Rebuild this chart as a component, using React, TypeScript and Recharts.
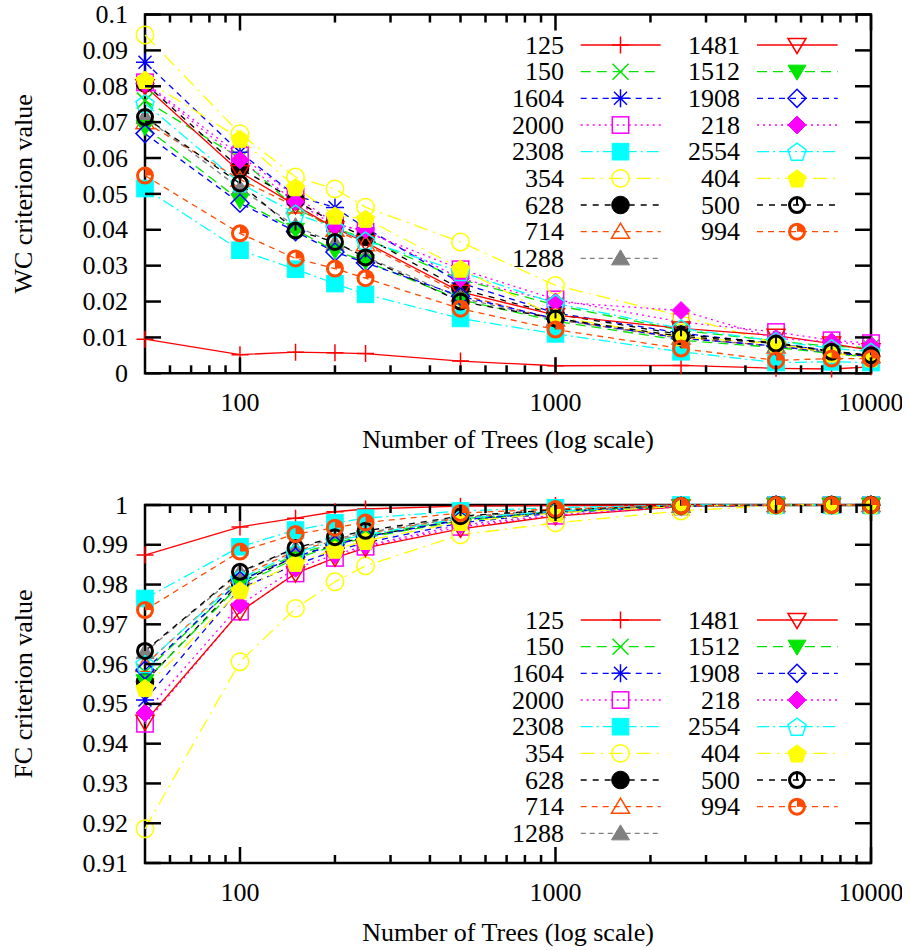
import React from 'react';
import { LineChart, Line, XAxis, YAxis, Legend, ReferenceArea, Label } from 'recharts';

// ---------------- data ----------------
const TREES = [50, 100, 150, 200, 250, 500, 1000, 2500, 5000, 7500, 10000];
const X_MAJOR = [100, 1000, 10000];
const X_MINOR = [60, 70, 80, 90, 200, 300, 400, 500, 600, 700, 800, 900, 2000, 3000, 4000, 5000, 6000, 7000, 8000, 9000];
const WC_TICKS = [0, 0.01, 0.02, 0.03, 0.04, 0.05, 0.06, 0.07, 0.08, 0.09, 0.1];
const FC_TICKS = [0.91, 0.92, 0.93, 0.94, 0.95, 0.96, 0.97, 0.98, 0.99, 1];

// WC criterion values
const wc125 = [0.0095, 0.0052, 0.0059, 0.0057, 0.0055, 0.0034, 0.0021, 0.0022, 0.0014, 0.0012, 0.0018];
const wc150 = [0.0760, 0.0600, 0.0460, 0.0405, 0.0375, 0.0262, 0.0190, 0.0120, 0.0090, 0.0075, 0.0072];
const wc1604 = [0.0867, 0.0616, 0.0495, 0.0462, 0.0405, 0.0252, 0.0168, 0.0112, 0.0082, 0.0062, 0.0048];
const wc2000 = [0.0811, 0.0607, 0.0493, 0.0418, 0.0394, 0.0290, 0.0206, 0.0143, 0.0115, 0.0092, 0.0084];
const wc2308 = [0.0515, 0.0343, 0.0290, 0.0250, 0.0220, 0.0153, 0.0110, 0.0060, 0.0030, 0.0032, 0.0030];
const wc354 = [0.0943, 0.0668, 0.0547, 0.0514, 0.0463, 0.0366, 0.0245, 0.0160, 0.0083, 0.0056, 0.0046];
const wc628 = [0.0808, 0.0571, 0.0482, 0.0418, 0.0380, 0.0235, 0.0165, 0.0108, 0.0085, 0.0062, 0.0050];
const wc714 = [0.0700, 0.0540, 0.0465, 0.0400, 0.0360, 0.0220, 0.0150, 0.0100, 0.0075, 0.0058, 0.0048];
const wc1288 = [0.0714, 0.0515, 0.0410, 0.0362, 0.0325, 0.0210, 0.0150, 0.0097, 0.0076, 0.0057, 0.0046];
const wc1481 = [0.0800, 0.0561, 0.0468, 0.0405, 0.0365, 0.0227, 0.0162, 0.0125, 0.0105, 0.0083, 0.0064];
const wc1512 = [0.0686, 0.0482, 0.0400, 0.0342, 0.0312, 0.0205, 0.0145, 0.0092, 0.0072, 0.0055, 0.0045];
const wc1908 = [0.0668, 0.0474, 0.0395, 0.0338, 0.0308, 0.0215, 0.0152, 0.0098, 0.0076, 0.0058, 0.0047];
const wc218 = [0.0808, 0.0595, 0.0478, 0.0412, 0.0400, 0.0264, 0.0199, 0.0175, 0.0097, 0.0088, 0.0078];
const wc2554 = [0.0752, 0.0530, 0.0445, 0.0405, 0.0370, 0.0283, 0.0195, 0.0125, 0.0090, 0.0070, 0.0060];
const wc404 = [0.0818, 0.0654, 0.0519, 0.0440, 0.0431, 0.0292, 0.0157, 0.0101, 0.0083, 0.0056, 0.0042];
const wc500 = [0.0714, 0.0529, 0.0398, 0.0366, 0.0323, 0.0200, 0.0153, 0.0103, 0.0083, 0.0060, 0.0050];
const wc994 = [0.0551, 0.0390, 0.0320, 0.0292, 0.0265, 0.0180, 0.0122, 0.0069, 0.0036, 0.0041, 0.0041];

// FC criterion values
const fc125 = [0.9874, 0.9945, 0.9967, 0.9983, 0.9990, 0.9997, 0.9999, 1, 1, 1, 1];
const fc150 = [0.9580, 0.9810, 0.9875, 0.9905, 0.9922, 0.9965, 0.9984, 0.9997, 1, 1, 1];
const fc1604 = [0.9510, 0.9790, 0.9850, 0.9885, 0.9905, 0.9955, 0.9980, 0.9997, 1, 1, 1];
const fc2000 = [0.9450, 0.9732, 0.9828, 0.9867, 0.9895, 0.9945, 0.9973, 0.9996, 1, 1, 1];
const fc2308 = [0.9765, 0.9895, 0.9937, 0.9955, 0.9967, 0.9985, 0.9993, 1, 1, 1, 1];
const fc354 = [0.9186, 0.9606, 0.9740, 0.9807, 0.9847, 0.9925, 0.9955, 0.9985, 0.9999, 1, 1];
const fc628 = [0.9556, 0.9805, 0.9870, 0.9900, 0.9920, 0.9963, 0.9983, 0.9997, 1, 1, 1];
const fc714 = [0.9598, 0.9820, 0.9885, 0.9910, 0.9928, 0.9968, 0.9986, 0.9998, 1, 1, 1];
const fc1288 = [0.9630, 0.9830, 0.9890, 0.9915, 0.9930, 0.9970, 0.9988, 0.9998, 1, 1, 1];
const fc1481 = [0.9455, 0.9732, 0.9828, 0.9867, 0.9892, 0.9940, 0.9972, 0.9996, 1, 1, 1];
const fc1512 = [0.9557, 0.9800, 0.9865, 0.9898, 0.9918, 0.9960, 0.9982, 0.9997, 1, 1, 1];
const fc1908 = [0.9585, 0.9810, 0.9870, 0.9900, 0.9920, 0.9962, 0.9983, 0.9997, 1, 1, 1];
const fc218 = [0.9477, 0.9749, 0.9841, 0.9875, 0.9898, 0.9950, 0.9975, 0.9996, 1, 1, 1];
const fc2554 = [0.9600, 0.9815, 0.9880, 0.9910, 0.9925, 0.9966, 0.9985, 0.9998, 1, 1, 1];
const fc404 = [0.9540, 0.9786, 0.9855, 0.9888, 0.9910, 0.9958, 0.9980, 0.9997, 1, 1, 1];
const fc500 = [0.9633, 0.9832, 0.9892, 0.9919, 0.9935, 0.9972, 0.9988, 0.9998, 1, 1, 1];
const fc994 = [0.9736, 0.9883, 0.9927, 0.9943, 0.9956, 0.9980, 0.9990, 0.9998, 1, 1, 1];

// ---------------- styling ----------------
const RED = '#ff0000';
const GREEN = '#00e600';
const BLUE = '#0000ff';
const MAGENTA = '#ff00ff';
const CYAN = '#00ffff';
const YELLOW = '#ffff00';
const BLACK = '#000000';
const ORANGE = '#ff4a00';
const GRAY = '#808080';

const D_SOLID = undefined;
const D_GREEN = '10 6';
const D_BLUE = '6 5';
const D_MAG = '2 4';
const D_CYAN = '12 4 2 4';
const D_YEL = '14 6 2 6';
const D_BLACK = '6 6';
const D_ORANGE = '6 5';
const D_GRAY = '5 4';

type Series = { key: string; name: string; color: string; dash?: string; shape: string; wc: number[]; fc: number[] };

const SERIES: Series[] = [
  { key: 's125', name: '125', color: RED, dash: D_SOLID, shape: 'plus', wc: wc125, fc: fc125 },
  { key: 's150', name: '150', color: GREEN, dash: D_GREEN, shape: 'cross', wc: wc150, fc: fc150 },
  { key: 's1604', name: '1604', color: BLUE, dash: D_BLUE, shape: 'star', wc: wc1604, fc: fc1604 },
  { key: 's2000', name: '2000', color: MAGENTA, dash: D_MAG, shape: 'square', wc: wc2000, fc: fc2000 },
  { key: 's2308', name: '2308', color: CYAN, dash: D_CYAN, shape: 'squareF', wc: wc2308, fc: fc2308 },
  { key: 's354', name: '354', color: YELLOW, dash: D_YEL, shape: 'circle', wc: wc354, fc: fc354 },
  { key: 's628', name: '628', color: BLACK, dash: D_BLACK, shape: 'circleF', wc: wc628, fc: fc628 },
  { key: 's714', name: '714', color: ORANGE, dash: D_ORANGE, shape: 'tri', wc: wc714, fc: fc714 },
  { key: 's1288', name: '1288', color: GRAY, dash: D_GRAY, shape: 'triF', wc: wc1288, fc: fc1288 },
  { key: 's1481', name: '1481', color: RED, dash: D_SOLID, shape: 'itri', wc: wc1481, fc: fc1481 },
  { key: 's1512', name: '1512', color: GREEN, dash: D_GREEN, shape: 'itriF', wc: wc1512, fc: fc1512 },
  { key: 's1908', name: '1908', color: BLUE, dash: D_BLUE, shape: 'diamond', wc: wc1908, fc: fc1908 },
  { key: 's218', name: '218', color: MAGENTA, dash: D_MAG, shape: 'diamondF', wc: wc218, fc: fc218 },
  { key: 's2554', name: '2554', color: CYAN, dash: D_CYAN, shape: 'pent', wc: wc2554, fc: fc2554 },
  { key: 's404', name: '404', color: YELLOW, dash: D_YEL, shape: 'pentF', wc: wc404, fc: fc404 },
  { key: 's500', name: '500', color: BLACK, dash: D_BLACK, shape: 'clock', wc: wc500, fc: fc500 },
  { key: 's994', name: '994', color: ORANGE, dash: D_ORANGE, shape: 'pie', wc: wc994, fc: fc994 },
];

const wcData = TREES.map((t, i) => {
  const row: any = { trees: t };
  SERIES.forEach((s) => { row[s.key] = s.wc[i]; });
  return row;
});
const fcData = TREES.map((t, i) => {
  const row: any = { trees: t };
  SERIES.forEach((s) => { row[s.key] = s.fc[i]; });
  return row;
});

// ---------------- layout ----------------
const FONT = '"Liberation Serif", "Times New Roman", serif';
const FS = 26;
const W = 894;
const Y_AXIS_W = 137;
const M_RIGHT = 31;
const PLOT_RIGHT = W - M_RIGHT;
const AXIS_SW = 2.5;

function Marker({ shape, color, cx, cy }: any) {
  if (cx == null || cy == null || isNaN(cx) || isNaN(cy)) return null;
  const o = { stroke: color, strokeWidth: 1.5, fill: 'none' } as any;
  const f = { stroke: color, strokeWidth: 1, fill: color } as any;
  const pts = (arr: number[][]) => arr.map((p) => `${cx + p[0]},${cy + p[1]}`).join(' ');
  const pent = () => {
    const r = 9.5;
    const a: number[][] = [];
    for (let k = 0; k < 5; k++) {
      const ang = (-90 + 72 * k) * Math.PI / 180;
      a.push([r * Math.cos(ang), r * Math.sin(ang) + 1]);
    }
    return pts(a);
  };
  switch (shape) {
    case 'plus': {
      const s = 8.5;
      return <path d={`M${cx - s} ${cy}H${cx + s}M${cx} ${cy - s}V${cy + s}`} {...o} />;
    }
    case 'cross': {
      const s = 8;
      return <path d={`M${cx - s} ${cy - s}L${cx + s} ${cy + s}M${cx - s} ${cy + s}L${cx + s} ${cy - s}`} {...o} />;
    }
    case 'star': {
      const s = 9;
      const d = 6.5;
      return <path d={`M${cx - s} ${cy}H${cx + s}M${cx} ${cy - s}V${cy + s}M${cx - d} ${cy - d}L${cx + d} ${cy + d}M${cx - d} ${cy + d}L${cx + d} ${cy - d}`} {...o} />;
    }
    case 'square':
      return <rect x={cx - 8.2} y={cy - 8.2} width={16.4} height={16.4} {...o} />;
    case 'squareF':
      return <rect x={cx - 8.3} y={cy - 8.3} width={16.6} height={16.6} {...f} />;
    case 'circle':
      return <circle cx={cx} cy={cy} r={8.7} {...o} />;
    case 'circleF':
      return <circle cx={cx} cy={cy} r={8.8} {...f} />;
    case 'tri':
      return <polygon points={pts([[0, -8.5], [9, 6.5], [-9, 6.5]])} {...o} />;
    case 'triF':
      return <polygon points={pts([[0, -8.5], [9, 6.5], [-9, 6.5]])} {...f} />;
    case 'itri':
      return <polygon points={pts([[0, 8.5], [9, -6.5], [-9, -6.5]])} {...o} />;
    case 'itriF':
      return <polygon points={pts([[0, 8.5], [9, -6.5], [-9, -6.5]])} {...f} />;
    case 'diamond':
      return <polygon points={pts([[0, -9], [9, 0], [0, 9], [-9, 0]])} {...o} />;
    case 'diamondF':
      return <polygon points={pts([[0, -9], [9, 0], [0, 9], [-9, 0]])} {...f} />;
    case 'pent':
      return <polygon points={pent()} {...o} />;
    case 'pentF':
      return <polygon points={pent()} {...f} />;
    case 'clock': {
      const r = 7.5;
      return (
        <g>
          <circle cx={cx} cy={cy} r={r} stroke={color} strokeWidth={3} fill="none" />
          <line x1={cx} y1={cy} x2={cx} y2={cy - r} stroke={color} strokeWidth={2} />
        </g>
      );
    }
    case 'pie': {
      const r = 7.5;
      return (
        <g>
          <path d={`M${cx} ${cy}L${cx} ${cy - r}A${r} ${r} 0 0 1 ${cx + r} ${cy}Z`} fill={color} stroke="none" />
          <circle cx={cx} cy={cy} r={r} stroke={color} strokeWidth={3} fill="none" />
        </g>
      );
    }
    default:
      return null;
  }
}

const makeXTick = (plotTop: number) => (props: any) => {
  const { x, y, payload } = props;
  const major = X_MAJOR.indexOf(payload.value) >= 0;
  const len = major ? 16 : 8;
  return (
    <g>
      <line x1={x} x2={x} y1={y} y2={y - len} stroke="#000" strokeWidth={AXIS_SW} />
      <line x1={x} x2={x} y1={plotTop} y2={plotTop + len} stroke="#000" strokeWidth={AXIS_SW} />
      {major ? (
        <text x={x} y={y + 38} textAnchor="middle" fontSize={FS} fontFamily={FONT} fill="#000">
          {String(payload.value)}
        </text>
      ) : null}
    </g>
  );
};

const YTick = (props: any) => {
  const { x, y, payload } = props;
  return (
    <g>
      <line x1={x} x2={x + 16} y1={y} y2={y} stroke="#000" strokeWidth={AXIS_SW} />
      <line x1={PLOT_RIGHT} x2={PLOT_RIGHT - 16} y1={y} y2={y} stroke="#000" strokeWidth={AXIS_SW} />
      <text x={x - 17} y={y + 8.6} textAnchor="end" fontSize={FS} fontFamily={FONT} fill="#000">
        {String(payload.value)}
      </text>
    </g>
  );
};

const yTitle = (title: string) => (props: any) => {
  const vb = props.viewBox || {};
  const cx = (vb.x || 0) + 24;
  const cy = (vb.y || 0) + (vb.height || 0) / 2;
  return (
    <text x={cx} y={cy} transform={`rotate(-90 ${cx} ${cy})`} textAnchor="middle" fontSize={FS} fontFamily={FONT} fill="#000">
      {title}
    </text>
  );
};

const xTitle = (title: string, dy: number) => (props: any) => {
  const vb = props.viewBox || {};
  const cx = (vb.x || 0) + (vb.width || 0) / 2;
  const cy = (vb.y || 0) + dy;
  return (
    <text x={cx} y={cy} textAnchor="middle" fontSize={FS} fontFamily={FONT} fill="#000">
      {title}
    </text>
  );
};

const LEG_LEFT = 400;
const LEG_ROW = 26.67;
const COLS = [
  { labelRight: 156, lineStart: 172.7, lineEnd: 252.7, marker: 212.5 },
  { labelRight: 332, lineStart: 349, lineEnd: 429.7, marker: 389 },
];

const LegendBox = () => {
  const perCol = 9;
  return (
    <svg width={450} height={260} style={{ display: 'block', overflow: 'visible' }}>
      {SERIES.map((s, i) => {
        const col = COLS[i < perCol ? 0 : 1];
        const row = i < perCol ? i : i - perCol;
        const y = 17 + row * LEG_ROW;
        return (
          <g key={s.key}>
            <text x={col.labelRight} y={y + 8.6} textAnchor="end" fontSize={FS} fontFamily={FONT} fill="#000">
              {s.name}
            </text>
            <line x1={col.lineStart} x2={col.lineEnd} y1={y} y2={y} stroke={s.color} strokeWidth={1.3} strokeDasharray={s.dash} />
            <Marker shape={s.shape} color={s.color} cx={col.marker} cy={y} />
          </g>
        );
      })}
    </svg>
  );
};

function Panel({ data, height, top, bottom, domain, ticks, yLabel, legendTop, xTitleDy }: any) {
  return (
    <LineChart width={W} height={height} data={data} margin={{ top, right: M_RIGHT, left: 0, bottom: 0 }}>
      <ReferenceArea x1={50} x2={10000} y1={domain[0]} y2={domain[1]} fill="none" fillOpacity={0} stroke="#000" strokeWidth={AXIS_SW} ifOverflow="visible" />
      <XAxis
        dataKey="trees"
        type="number"
        scale="log"
        domain={[50, 10000]}
        ticks={[...X_MINOR, ...X_MAJOR]}
        interval={0}
        height={bottom}
        tickSize={0}
        tickMargin={0}
        tickLine={false}
        axisLine={false}
        tick={makeXTick(top)}
        label={<Label content={xTitle('Number of Trees (log scale)', xTitleDy)} />}
      />
      <YAxis
        type="number"
        domain={domain}
        ticks={ticks}
        interval={0}
        width={Y_AXIS_W}
        tickSize={0}
        tickMargin={0}
        tickLine={false}
        axisLine={false}
        tick={YTick}
        label={<Label content={yTitle(yLabel)} />}
      />
      <Legend
        content={() => <LegendBox />}
        layout="vertical"
        align="center"
        verticalAlign="middle"
        wrapperStyle={{ left: LEG_LEFT, top: legendTop, width: 450, height: 260 }}
      />
      {SERIES.map((s) => (
        <Line
          key={s.key}
          dataKey={s.key}
          name={s.name}
          type="linear"
          stroke={s.color}
          strokeWidth={1.3}
          strokeDasharray={s.dash}
          isAnimationActive={false}
          activeDot={false}
          legendType="none"
          dot={(p: any) => <Marker key={`${s.key}-${p.index}`} shape={s.shape} color={s.color} cx={p.cx} cy={p.cy} />}
        />
      ))}
    </LineChart>
  );
}

export default function App() {
  return (
    <div style={{ position: 'absolute', left: 8, top: 0, width: W, fontFamily: FONT }}>
      <style>{'html,body{overflow:hidden;background:#fff}'}</style>
      <Panel
        data={wcData}
        height={478}
        top={14.5}
        bottom={478 - 373.3}
        domain={[0, 0.1]}
        ticks={WC_TICKS}
        yLabel="WC criterion value"
        legendTop={28}
        xTitleDy={75}
      />
      <Panel
        data={fcData}
        height={472}
        top={27}
        bottom={472 - 385}
        domain={[0.91, 1]}
        ticks={FC_TICKS}
        yLabel="FC criterion value"
        legendTop={125}
        xTitleDy={78}
      />
    </div>
  );
}
